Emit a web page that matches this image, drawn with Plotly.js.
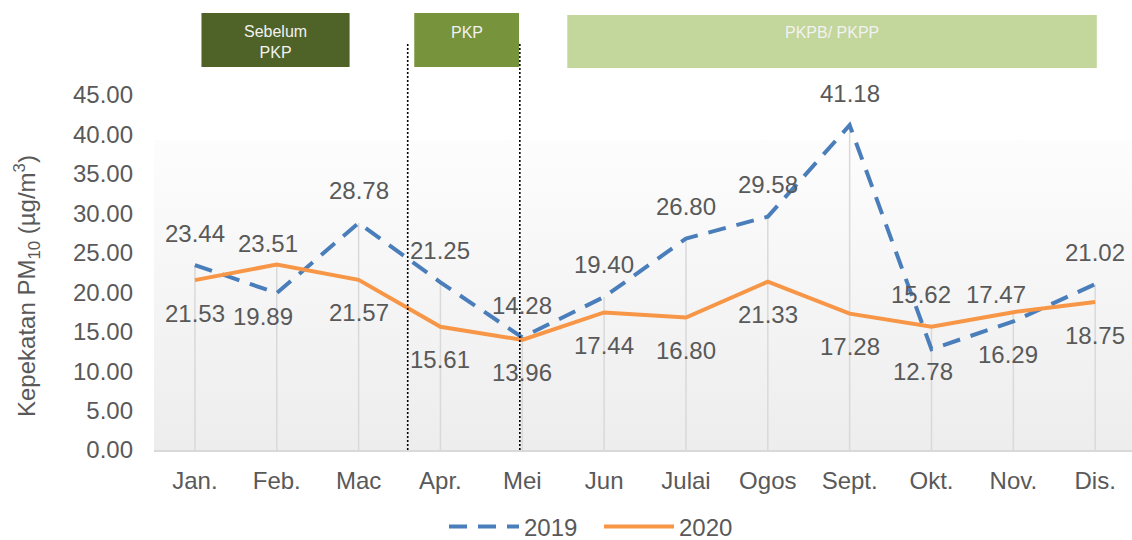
<!DOCTYPE html>
<html>
<head>
<meta charset="utf-8">
<script src="https://cdn.plot.ly/plotly-3.0.1.min.js"></script>
<style>html,body{margin:0;padding:0;background:#fff;}#chart{width:1132px;height:540px;}</style>
</head>
<body>
<div id="chart"></div>
<script>
// ---- data ----
const months = ["Jan.", "Feb.", "Mac", "Apr.", "Mei", "Jun", "Julai", "Ogos", "Sept.", "Okt.", "Nov.", "Dis."];
const pm2019 = [23.44, 19.89, 28.78, 21.25, 14.28, 19.40, 26.80, 29.58, 41.18, 12.78, 16.29, 21.02];
const pm2020 = [21.53, 23.51, 21.57, 15.61, 13.96, 17.44, 16.80, 21.33, 17.28, 15.62, 17.47, 18.75];
const yTicks = [0, 5, 10, 15, 20, 25, 30, 35, 40, 45];
const phases = [
  {name: "Sebelum<br>PKP", from: 0.08, to: 1.89, color: "#4F6228"},
  {name: "PKP", from: 2.68, to: 3.96, color: "#77933C"},
  {name: "PKPB/ PKPP", from: 4.55, to: 11.02, color: "#C3D69B"}
];
const phaseDividers = [2.60, 3.97];

// ---- styling helpers ----
const FONT = "Liberation Sans, Arial, sans-serif";
const GREY = "#595959";
// pixel geometry of plot area (t=95, b=90 -> 355px tall)
const plotH = 355;
const pxToPaperY = px => (450 - px) / plotH;

// label nudges (px) for crowded points: [dx, dy]
const nudgeAbove = {1: [-9, -11], 9: [-10, 0], 10: [-17, -14]};
const nudgeBelow = {1: [-14, 10], 9: [-8, 11], 10: [-5, 0]};

// ---- traces ----
const dropX = [], dropY = [];
months.forEach((m, i) => {
  dropX.push(m, m, null);
  dropY.push(0, Math.max(pm2019[i], pm2020[i]), null);
});

const traces = [
  {x: dropX, y: dropY, mode: "lines", line: {color: "#D9D9D9", width: 1.5},
   hoverinfo: "skip", showlegend: false},
  {x: months, y: pm2019, name: "2019", mode: "lines",
   line: {color: "#4A7EBB", width: 4, dash: "18px,11px"}},
  {x: months, y: pm2020, name: "2020", mode: "lines",
   line: {color: "#F79646", width: 4}}
];

// ---- data labels ----
const annotations = [];
months.forEach((m, i) => {
  const a = pm2019[i], b = pm2020[i];
  const hi = Math.max(a, b), lo = Math.min(a, b);
  const na = nudgeAbove[i] || [0, 0], nb = nudgeBelow[i] || [0, 0];
  annotations.push({x: m, y: hi, text: hi.toFixed(2), showarrow: false,
    xshift: na[0], yshift: 32 + na[1], font: {size: 24, color: GREY, family: FONT}});
  annotations.push({x: m, y: lo, text: lo.toFixed(2), showarrow: false,
    xshift: nb[0], yshift: -33 + nb[1], font: {size: 24, color: GREY, family: FONT}});
});

// y axis title
annotations.push({xref: "paper", yref: "paper", x: (27 - 154) / 978, y: pxToPaperY(286),
  text: "Kepekatan PM<sub>10</sub> (µg/m<sup>3</sup>)", textangle: -90, showarrow: false,
  xanchor: "center", yanchor: "middle", font: {size: 24, color: GREY, family: FONT}});

// phase boxes + labels
const shapes = [];
phases.forEach((p, k) => {
  const top = k === 2 ? 15 : 13, bot = k === 2 ? 68 : 67;
  shapes.push({type: "rect", xref: "x", yref: "paper", x0: p.from, x1: p.to,
    y0: pxToPaperY(bot), y1: pxToPaperY(top), fillcolor: p.color, line: {width: 0}});
  annotations.push({xref: "x", yref: "paper", x: (p.from + p.to) / 2,
    y: pxToPaperY(k === 0 ? 42 : 32), text: p.name, showarrow: false,
    xanchor: "center", yanchor: "middle",
    font: {size: 16, color: "#F2F2F2", family: FONT}});
});
phaseDividers.forEach(d => {
  shapes.push({type: "line", xref: "x", yref: "paper", x0: d, x1: d,
    y0: 0, y1: pxToPaperY(42), line: {color: "#000000", width: 1.6, dash: "2px,2px"}});
});

// background gradient for plot area
const grad = 'data:image/svg+xml;utf8,' + encodeURIComponent(
  '<svg xmlns="http://www.w3.org/2000/svg" width="100" height="100" preserveAspectRatio="none">' +
  '<defs><linearGradient id="g" x1="0" y1="0" x2="0" y2="1">' +
  '<stop offset="0" stop-color="#FDFDFD"/><stop offset="1" stop-color="#EDEDED"/>' +
  '</linearGradient></defs><rect width="100" height="100" fill="url(#g)"/></svg>');

const layout = {
  width: 1132, height: 540,
  margin: {l: 154, r: 0, t: 95, b: 90, pad: 0, autoexpand: false},
  paper_bgcolor: "#FFFFFF", plot_bgcolor: "rgba(0,0,0,0)",
  font: {family: FONT, size: 24, color: GREY},
  showlegend: true,
  legend: {orientation: "h", x: (444 - 154) / 978, xanchor: "left", y: pxToPaperY(527), yanchor: "middle",
    font: {size: 24, color: GREY, family: FONT}, itemwidth: 70, entrywidth: 70,
    entrywidthmode: "pixels", bgcolor: "rgba(0,0,0,0)"},
  xaxis: {type: "category", range: [-0.5, 11.45], showgrid: false, zeroline: false,
    showline: true, linecolor: "#D9D9D9", linewidth: 2, ticks: "",
    ticklabelstandoff: 8,
    tickfont: {size: 24, color: GREY, family: FONT}, fixedrange: true},
  yaxis: {range: [0, 45], tickvals: yTicks, ticktext: yTicks.map(v => v.toFixed(2)),
    showgrid: false, zeroline: false, showline: false, ticks: "",
    ticklabelstandoff: 20,
    tickfont: {size: 24, color: GREY, family: FONT}, fixedrange: true},
  shapes: shapes,
  annotations: annotations,
  images: [{source: grad, xref: "paper", yref: "paper", x: 0, y: pxToPaperY(140),
    sizex: 1, sizey: pxToPaperY(140), xanchor: "left", yanchor: "top",
    sizing: "stretch", layer: "below"}]
};

Plotly.newPlot("chart", traces, layout, {displayModeBar: false, staticPlot: true});
</script>
</body>
</html>
